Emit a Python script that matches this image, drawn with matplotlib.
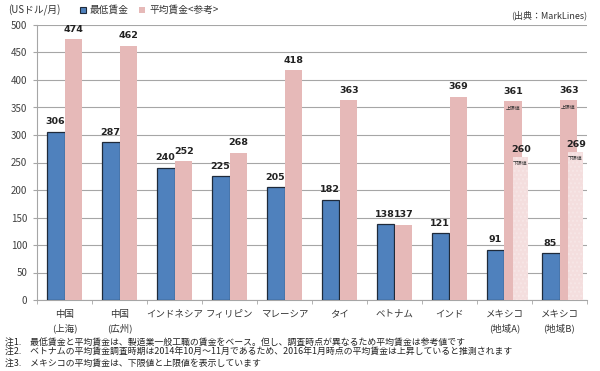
import matplotlib
matplotlib.use("Agg")
import matplotlib.pyplot as plt
import numpy as np

plt.rcParams['font.family'] = ['Noto Sans CJK JP', 'DejaVu Sans']

categories = ["中国\n(上海)", "中国\n(広州)", "インドネシア", "フィリピン", "マレーシア",
              "タイ", "ベトナム", "インド", "メキシコ\n(地域A)", "メキシコ\n(地域B)"]
min_wage = [306, 287, 240, 225, 205, 182, 138, 121, 91, 85]
avg_wage = [474, 462, 252, 268, 418, 363, 137, 369, 361, 363]
mex_lower = [260, 269]  # lower bound of average wage for Mexico A, B
yticks = [0, 50, 100, 150, 200, 250, 300, 350, 400, 450, 500]
notes = ["注1.　最低賃金と平均賃金は、製造業一般工職の賃金をベース。但し、調査時点が異なるため平均賃金は参考値です",
         "注2.　ベトナムの平均賃金調査時期は2014年10月～11月であるため、2016年1月時点の平均賃金は上昇していると推測されます",
         "注3.　メキシコの平均賃金は、下限値と上限値を表示しています"]

blue = "#4f81bd"
pink = "#e6b9b8"
light = "#f4dede"

fig = plt.figure(figsize=(6, 3.71), dpi=100)
ax = fig.add_axes([37/600, 1-300/371, 550/600, 275/371])

x = np.arange(len(categories))
w = 0.31
ax.bar(x - w/2, min_wage, w, color=blue, edgecolor="#1f2a3a", linewidth=0.9, zorder=3)
ax.bar(x + w/2, avg_wage, w, color=pink, zorder=3)
mx = x[-2:] + w/2 + 0.13
ax.bar(mx, mex_lower, 0.27, color=light, hatch='....', edgecolor="#f7e6e6", linewidth=0, zorder=4)

fs = 6.8
for i in range(len(x)):
    ax.annotate(str(min_wage[i]), (x[i] - w/2, min_wage[i]), xytext=(-0.5, 4),
                textcoords='offset points', ha='center', va='bottom', fontsize=fs,
                fontweight='bold', family='DejaVu Sans', color='#222222', zorder=6)
    ax.annotate(str(avg_wage[i]), (x[i] + w/2, avg_wage[i]), xytext=(0.5, 4),
                textcoords='offset points', ha='center', va='bottom', fontsize=fs,
                fontweight='bold', family='DejaVu Sans', color='#222222', zorder=6)
for j in range(2):
    ax.annotate(str(mex_lower[j]), (mx[j], mex_lower[j]), xytext=(1, 2),
                textcoords='offset points', ha='center', va='bottom', fontsize=fs,
                fontweight='bold', family='DejaVu Sans', color='#222222', zorder=6)
    ax.annotate("上限値", (x[-2+j] + w/2, avg_wage[-2+j]), xytext=(0, -3),
                textcoords='offset points', ha='center', va='top', fontsize=3.5,
                color='#333333', zorder=6)
    ax.annotate("下限値", (mx[j], mex_lower[j]), xytext=(0, -3),
                textcoords='offset points', ha='center', va='top', fontsize=3.5,
                color='#333333', zorder=6)

ax.set_xlim(-0.5, len(x) - 0.5)
ax.set_ylim(0, 500)
ax.set_yticks(yticks)
ax.yaxis.grid(True, color='#a6a6a6', linewidth=0.8, zorder=0)
ax.tick_params(axis='y', length=3, labelsize=7, colors='#404040', pad=4, color='#a6a6a6')
ax.set_xticks(x)
ax.set_xticklabels(categories, fontsize=6.8, color='#333333', linespacing=1.65, va='top')
ax.tick_params(axis='x', length=0, pad=7)
ax.set_xticks(np.arange(-0.5, len(x)), minor=True)
ax.tick_params(axis='x', which='minor', length=3, color='#a6a6a6')
for s in ['top', 'right']:
    ax.spines[s].set_visible(False)
ax.spines['left'].set_color('#a6a6a6')
ax.spines['bottom'].set_color('#a6a6a6')

# header texts
fig.text(8/600, 1-10/371, "(USドル/月)", fontsize=7, va='center', ha='left', color='#333333')
fig.patches.append(plt.Rectangle((80/600, 1-13/371), 6/600, 6/371, transform=fig.transFigure,
                                 facecolor=blue, edgecolor='#1f2a3a', linewidth=0.8))
fig.text(90/600, 1-10/371, "最低賃金", fontsize=7, va='center', ha='left', color='#333333')
fig.patches.append(plt.Rectangle((139/600, 1-13/371), 6/600, 6/371, transform=fig.transFigure,
                                 facecolor=pink, edgecolor='none'))
fig.text(149/600, 1-10/371, "平均賃金<参考>", fontsize=7, va='center', ha='left', color='#333333')
fig.text(587/600, 1-15/371, "(出典：MarkLines)", fontsize=6.5, va='center', ha='right', color='#333333')

for k, line in enumerate(notes):
    fig.text(5/600, 1-(342 + k*10.5)/371, line, fontsize=6.4, va='center', ha='left', color='#222222')

fig.savefig("out.png", dpi=100)
